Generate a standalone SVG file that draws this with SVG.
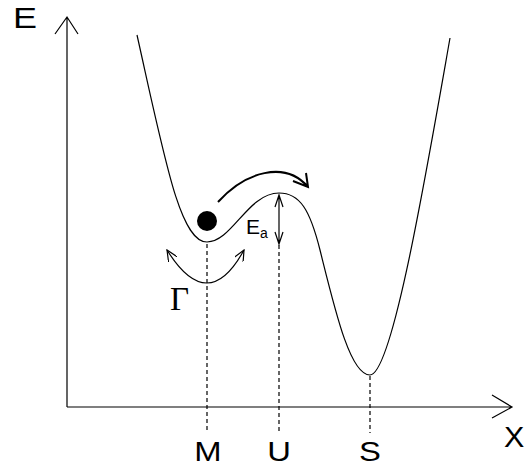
<svg xmlns="http://www.w3.org/2000/svg" width="525" height="467" viewBox="0 0 525 467">
<style>
.ln{fill:none;stroke:#000;stroke-width:1.2}
.dash{fill:none;stroke:#000;stroke-width:1.2;stroke-dasharray:4,3}
.lbl{font-family:"Liberation Sans",Arial,sans-serif;fill:#000}
</style>
<defs>
<marker id="open" viewBox="0 0 12 10" refX="11" refY="5" markerWidth="12" markerHeight="10" markerUnits="userSpaceOnUse" orient="auto-start-reverse">
<path d="M0,0 L11,5 L0,10" fill="none" stroke="#000" stroke-width="1.2"/>
</marker>
</defs>
<rect width="525" height="467" fill="#fff"/>
<g id="axes">
<path class="ln" d="M67,407 V18 M55,34 L67,17 L78,34"/>
<path class="ln" d="M67,407 H512 M492,395 L512,407 L492,418"/>
<text class="lbl" font-size="30" transform="translate(13,28) scale(1.2,1)">E</text>
<text class="lbl" font-size="29" transform="translate(504,447) scale(1.05,1)">X</text>
</g>
<g id="curve">
<path class="ln" d="M137,35 C165,160 180,242 207,242 C232,242 248,193 279,193 C300,193 310,210 320,250 C335,310 350,375 370,375 C392,375 425,180 450,38"/>
</g>
<g id="ball"><circle cx="207" cy="221" r="10" fill="#000"/></g>
<g id="connectors">
<path class="dash" d="M207,244 V433"/>
<path class="dash" d="M279,245 V433"/>
<path class="dash" d="M370,376 V433"/>
<path class="ln" d="M279,195 V243 M275,207 L279,195 L283,207 M275,232 L279,244 L283,232"/>
<path class="ln" d="M167,250 Q208,316 244,250" marker-start="url(#open)" marker-end="url(#open)"/>
<path fill="none" stroke="#000" stroke-width="2" d="M218,202 C245,172 285,160 308,187 M293,181 L308,187 L306,173"/>
</g>
<g id="labels">
<text class="lbl" x="246" y="234" font-size="21">E</text>
<text class="lbl" x="260" y="238" font-size="14">a</text>
<text x="170" y="310" font-size="33" font-family="'Liberation Serif','Times New Roman',serif">Γ</text>
<text class="lbl" font-size="28" text-anchor="middle" transform="translate(208,461) scale(1.17,1)">M</text>
<text class="lbl" font-size="28" text-anchor="middle" transform="translate(279,461) scale(1.17,1)">U</text>
<text class="lbl" font-size="28" text-anchor="middle" transform="translate(370,461) scale(1.17,1)">S</text>
</g>
</svg>
